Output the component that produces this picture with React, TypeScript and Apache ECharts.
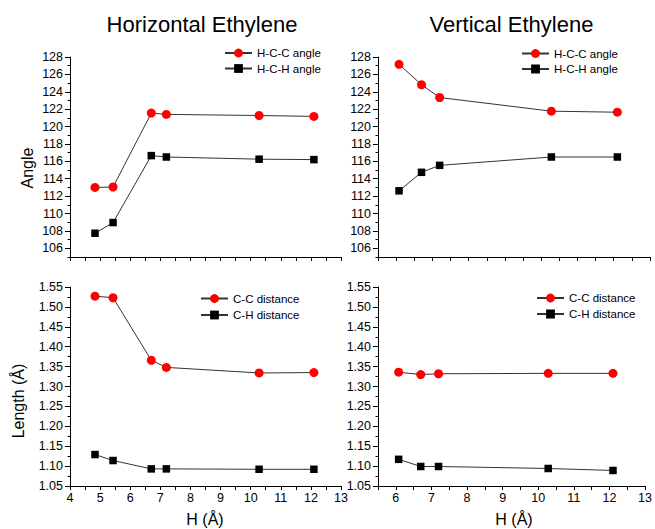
import React, { useEffect, useRef } from "react";
import * as echarts from "echarts";

// H (Å) positions
const horizX = [4.83, 5.43, 6.7, 7.2, 10.28, 12.1];
const vertX = [6.08, 6.7, 7.2, 10.28, 12.1];

// Angles (degrees)
const horizHCC = [113.0, 113.05, 121.55, 121.4, 121.27, 121.17];
const horizHCH = [107.73, 108.96, 116.66, 116.5, 116.25, 116.2];
const vertHCC = [127.16, 124.81, 123.34, 121.77, 121.65];
const vertHCH = [112.61, 114.74, 115.54, 116.5, 116.5];

// Lengths (Å)
const horizCC = [1.527, 1.523, 1.366, 1.348, 1.334, 1.335];
const horizCH = [1.129, 1.114, 1.093, 1.093, 1.092, 1.092];
const vertCC = [1.336, 1.33, 1.332, 1.333, 1.333];
const vertCH = [1.117, 1.099, 1.099, 1.094, 1.089];

// Tick labels
const angleTicks = [106, 108, 110, 112, 114, 116, 118, 120, 122, 124, 126, 128];

const titles = ["Horizontal Ethylene", "Vertical Ethylene"];
const angleNames = ["H-C-C angle", "H-C-H angle"];
const lengthNames = ["C-C distance", "C-H distance"];

const FONT = "'Liberation Sans', Arial, Helvetica, sans-serif";

const zip = (xs: number[], ys: number[]) => xs.map((x, i) => [x, ys[i]]);

export default function App() {
  const ref = useRef<HTMLDivElement>(null);
  useEffect(() => {
    if (!ref.current) return;
    const chart = echarts.init(ref.current, null, { renderer: "svg" });

    const axisLine = { show: true, onZero: false, lineStyle: { color: "#000", width: 1 } };
    const labelStyle = { color: "#000", fontSize: 12.5, fontFamily: FONT };

    const xCommon = (grid: number, min: number, labels: boolean) => ({
      type: "value",
      gridIndex: grid,
      min,
      max: 13,
      interval: 0.5,
      axisLine,
      axisTick: { show: true, length: 4, lineStyle: { color: "#000" } },
      axisLabel: labels
        ? {
            ...labelStyle,
            margin: 5,
            formatter: (v: number) => (Math.abs(v - Math.round(v)) < 1e-6 ? String(Math.round(v)) : ""),
          }
        : { show: false },
      splitLine: { show: false },
    });

    const yAngleMinor = (grid: number) => ({
      type: "value",
      gridIndex: grid,
      position: "left",
      min: 105,
      max: 128,
      interval: 1,
      axisLine,
      axisTick: { show: true, length: 2.5, lineStyle: { color: "#000" } },
      axisLabel: { show: false },
      splitLine: { show: false },
    });
    const yAngleMajor = (grid: number) => ({
      type: "value",
      gridIndex: grid,
      position: "left",
      min: 105,
      max: 128,
      interval: 1,
      axisLine: { show: false, onZero: false },
      axisTick: { show: true, length: 5, customValues: angleTicks, lineStyle: { color: "#000" } },
      axisLabel: { ...labelStyle, margin: 7, customValues: angleTicks },
      splitLine: { show: false },
    });
    const yLength = (grid: number) => ({
      type: "value",
      gridIndex: grid,
      position: "left",
      min: 1.05,
      max: 1.55,
      interval: 0.05,
      axisLine,
      axisTick: { show: true, length: 5, lineStyle: { color: "#000" } },
      minorTick: { show: true, splitNumber: 2, length: 2.5, lineStyle: { color: "#000" } },
      axisLabel: { ...labelStyle, margin: 7, formatter: (v: number) => v.toFixed(2) },
      splitLine: { show: false },
    });

    const lineStyle = { color: "#333", width: 1 };
    const mk = (name: string, xi: number, yi: number, data: number[][], circle: boolean) => ({
      type: "line",
      name,
      xAxisIndex: xi,
      yAxisIndex: yi,
      data,
      symbol: circle ? "circle" : "rect",
      symbolSize: circle ? 9 : 7.5,
      showSymbol: true,
      itemStyle: { color: circle ? "#ff0000" : "#000000", borderWidth: 0 },
      lineStyle,
      emphasis: { disabled: true },
      z: circle ? 3 : 2,
    });

    const legendCommon = {
      orient: "vertical",
      itemWidth: 27,
      itemHeight: 11,
      padding: 0,
      selectedMode: false,
      textStyle: { color: "#000", fontSize: 11.5, fontFamily: FONT },
    };

    const txt = (text: string, x: number, y: number, size: number, rot = 0) => ({
      type: "text",
      x,
      y,
      rotation: rot,
      style: {
        text,
        fill: "#000",
        font: `${size}px ${FONT}`,
        textAlign: "center",
        textVerticalAlign: "middle",
      },
    });

    chart.setOption({
      animation: false,
      backgroundColor: "#fff",
      grid: [
        { left: 70, top: 57, width: 271, height: 200 },
        { left: 378, top: 57, width: 272, height: 200 },
        { left: 70, top: 287, width: 271, height: 199 },
        { left: 378, top: 287, width: 272, height: 199 },
      ],
      xAxis: [xCommon(0, 4, false), xCommon(1, 5.5, false), xCommon(2, 4, true), xCommon(3, 5.5, true)],
      yAxis: [yAngleMinor(0), yAngleMajor(0), yAngleMinor(1), yAngleMajor(1), yLength(2), yLength(3)],
      legend: [
        { ...legendCommon, data: angleNames, left: 224, top: 47, itemGap: 3.5 },
        { ...legendCommon, data: angleNames, left: 521, top: 47.5, itemGap: 3.5 },
        { ...legendCommon, data: lengthNames, left: 200, top: 292.5, itemGap: 4.5 },
        { ...legendCommon, data: lengthNames, left: 536, top: 292, itemGap: 4 },
      ],
      graphic: [
        txt(titles[0], 202, 24, 22),
        txt(titles[1], 511.5, 24, 22),
        txt("Angle", 27, 168, 16, Math.PI / 2),
        txt("Length (Å)", 18.5, 401, 16, Math.PI / 2),
        txt("H (Å)", 205, 519.5, 16),
        txt("H (Å)", 514, 519.5, 16),
      ],
      series: [
        mk(angleNames[0], 0, 0, zip(horizX, horizHCC), true),
        mk(angleNames[1], 0, 0, zip(horizX, horizHCH), false),
        mk(angleNames[0], 1, 2, zip(vertX, vertHCC), true),
        mk(angleNames[1], 1, 2, zip(vertX, vertHCH), false),
        mk(lengthNames[0], 2, 4, zip(horizX, horizCC), true),
        mk(lengthNames[1], 2, 4, zip(horizX, horizCH), false),
        mk(lengthNames[0], 3, 5, zip(vertX, vertCC), true),
        mk(lengthNames[1], 3, 5, zip(vertX, vertCH), false),
      ],
    });
    return () => chart.dispose();
  }, []);

  return (
    <div
      ref={ref}
      style={{ position: "fixed", left: 0, top: 0, width: 655, height: 529, background: "#fff" }}
    />
  );
}
